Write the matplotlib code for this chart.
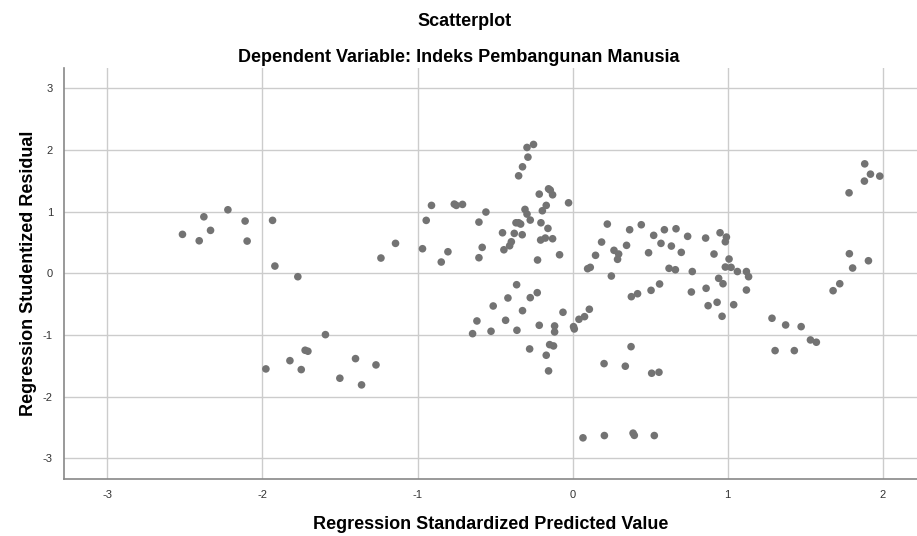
import matplotlib
matplotlib.use("Agg")
import matplotlib.pyplot as plt

plt.rcParams['font.family'] = ['Liberation Sans', 'DejaVu Sans']
plt.rcParams['axes.unicode_minus'] = False

# standardized predicted value (x) and studentized residual (y)
pred = [
    -2.516, -2.408, -2.378, -2.335, -2.223, -2.112, -2.099, -1.935, -1.920, -1.772,
    -1.594, -1.725, -1.707, -1.823, -1.978, -1.750, -1.501, -1.400, -1.361, -1.268,
    -0.361, -0.417, -0.273, -0.228, -0.512, -0.323, -0.617, -0.432, -0.359, -0.645,
    -0.526, -0.215, -0.116, -0.116, -0.062, 0.006, 0.011, 0.041, 0.077, 0.108,
    -0.277, -0.148, -0.123, -0.170, -0.155, 0.203, 0.340, 0.377, 0.510, 0.557,
    0.067, 0.205, 0.390, 0.398, 0.527,
    -1.236, -1.142, -0.968, -0.944, -0.910, -0.847, -0.804, -0.763, -0.750, -0.710,
    -0.604, -0.583, -0.604, -0.559, -0.452, -0.443, -0.406, -0.395, -0.376, -0.365,
    -0.348, -0.335, -0.325, -0.348, -0.323, -0.288, -0.294, -0.252, -0.215, -0.155,
    -0.144, -0.129, -0.170, -0.195, -0.307, -0.294, -0.273, -0.204, -0.159, -0.206,
    -0.176, -0.129, -0.226, -0.084, -0.026, 0.097, 0.114, 0.148, 0.187, 0.224,
    0.250, 0.267, 0.297, 0.290, 0.348, 0.368, 0.443, 0.490,
    0.523, 0.570, 0.592, 0.637, 0.667, 0.701, 0.742, 0.622, 0.663, 0.772,
    0.858, 0.912, 0.951, 0.992, 0.985, 1.009, 0.985, 1.022, 1.063, 1.121,
    1.135, 0.942, 1.783, 1.884, 1.921, 1.882, 1.981, 1.785, 1.806, 1.908,
    0.379, 0.419, 0.506, 0.561, 0.766, 0.861, 0.970, 1.121, 0.874, 0.932,
    0.964, 1.039, 1.286, 1.374, 1.474, 1.534, 1.572, 1.306, 1.430, 1.680,
    1.723,
]
resid = [
    0.632, 0.528, 0.917, 0.697, 1.031, 0.848, 0.523, 0.859, 0.118, -0.055,
    -0.995, -1.248, -1.264, -1.417, -1.551, -1.562, -1.702, -1.384, -1.810, -1.486,
    -0.185, -0.400, -0.395, -0.314, -0.530, -0.606, -0.773, -0.762, -0.924, -0.979,
    -0.940, -0.843, -0.854, -0.951, -0.632, -0.865, -0.903, -0.746, -0.703, -0.583,
    -1.227, -1.157, -1.178, -1.329, -1.583, -1.465, -1.507, -1.190, -1.621, -1.605,
    -2.669, -2.632, -2.593, -2.629, -2.632,
    0.248, 0.486, 0.399, 0.859, 1.102, 0.183, 0.350, 1.123, 1.102, 1.118,
    0.253, 0.421, 0.831, 0.994, 0.658, 0.382, 0.447, 0.512, 0.648, 0.820,
    0.820, 0.799, 0.626, 1.582, 1.728, 1.885, 2.042, 2.091, 1.285, 1.371,
    1.350, 1.274, 1.102, 1.015, 1.037, 0.961, 0.864, 0.820, 0.729, 0.540,
    0.572, 0.561, 0.216, 0.301, 1.144, 0.075, 0.097, 0.292, 0.507, 0.799,
    -0.044, 0.373, 0.313, 0.227, 0.454, 0.707, 0.788, 0.334,
    0.616, 0.486, 0.707, 0.442, 0.723, 0.340, 0.600, 0.081, 0.058, 0.029,
    0.572, 0.313, 0.658, 0.588, 0.512, 0.232, 0.102, 0.097, 0.029, 0.029,
    -0.055, -0.081, 1.306, 1.776, 1.609, 1.496, 1.577, 0.318, 0.086, 0.204,
    -0.379, -0.331, -0.276, -0.173, -0.303, -0.243, -0.169, -0.271, -0.525, -0.470,
    -0.697, -0.509, -0.729, -0.838, -0.865, -1.081, -1.118, -1.254, -1.254, -0.282,
    -0.169,
]
xticks = [-3, -2, -1, 0, 1, 2]
yticks = [-3, -2, -1, 0, 1, 2, 3]

fig = plt.figure(figsize=(9.17, 5.36), dpi=100)
ax = fig.add_axes([0.0698, 0.106, 0.93, 0.767])

ax.scatter(pred, resid, s=30, color='#737373', edgecolors='none', zorder=3)

ax.set_xlim(-3.28, 2.22)
ax.set_ylim(-3.34, 3.33)
ax.set_xticks(xticks)
ax.set_yticks(yticks)
ax.grid(True, color='#cccccc', linewidth=1.0, zorder=0)

for s in ['top', 'right']:
    ax.spines[s].set_visible(False)
for s in ['left', 'bottom']:
    ax.spines[s].set_color('#888888')
    ax.spines[s].set_linewidth(1.2)

ax.tick_params(axis='both', length=0, labelsize=8, labelcolor='#333333', pad=8)

ax.set_xlabel('Regression Standardized Predicted Value', fontsize=13,
              fontweight='bold', labelpad=11)
ax.set_ylabel('Regression Studentized Residual', fontsize=13,
              fontweight='bold', labelpad=4)

fig.text(465 / 917, 1 - 22 / 536, 'Scatterplot', ha='center', va='center',
         fontsize=13, fontweight='bold')
fig.text(0.5, 1 - 57 / 536, 'Dependent Variable: Indeks Pembangunan Manusia',
         ha='center', va='center', fontsize=13, fontweight='bold')

fig.savefig('out.png', dpi=100)
